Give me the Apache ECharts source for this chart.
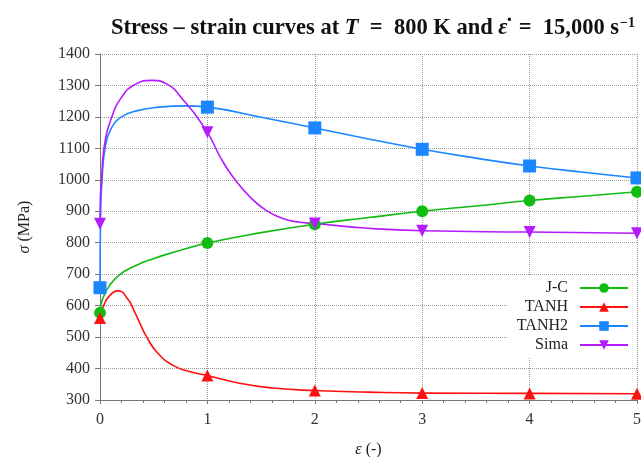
<!DOCTYPE html>
<html>
<head>
<meta charset="utf-8">
<script src="https://cdn.jsdelivr.net/npm/echarts@6/dist/echarts.min.js"></script>
<style>
  html, body { margin: 0; padding: 0; background: #fff; }
  #box { width: 641px; height: 457px; }
</style>
</head>
<body>
<div id="box"></div>
<script>
// values (strain, stress in MPa)
const jcStrain = [0, 0.01, 0.03, 0.078, 0.17, 0.33, 0.51, 0.7, 1, 1.5, 2, 2.5, 3, 3.5, 4, 4.5, 5];
const jcStress = [577, 605, 626, 658, 695, 727, 751, 771, 799, 832, 859, 880, 900, 917, 934, 948, 962];

const tanhStrain = [0, 0.01, 0.03, 0.08, 0.17, 0.26, 0.32, 0.37, 0.43, 0.53, 0.68, 0.84, 1, 1.3, 1.61, 2, 2.5, 3, 4, 5];
const tanhStress = [561, 578, 597, 628, 647, 620, 582, 545, 503, 452, 410, 390, 378, 353, 338, 330, 325, 322, 321, 320];

const tanh2Strain = [0, 0.006, 0.019, 0.047, 0.1, 0.2, 0.35, 0.55, 0.8, 1, 1.5, 2, 2.5, 3, 3.5, 4, 4.5, 5];
const tanh2Stress = [657, 900, 1000, 1100, 1160, 1200, 1220, 1231, 1235, 1231, 1199, 1165, 1130, 1097, 1069, 1044, 1024, 1006];

const simaStrain = [0, 0.004, 0.015, 0.037, 0.11, 0.2, 0.31, 0.48, 0.62, 0.775, 1, 1.12, 1.24, 1.4, 1.55, 1.71, 1.86, 2, 2.5, 3, 4, 5];
const simaStress = [860, 950, 1000, 1100, 1200, 1262, 1300, 1316, 1305, 1254, 1151, 1072, 1008, 944, 902, 876, 865, 861, 846, 838, 834, 830];

const yTicks = [300, 400, 500, 600, 700, 800, 900, 1000, 1100, 1200, 1300, 1400];

const font = 'Liberation Serif';

// markers only sit on whole strain values
function pts(xs, ys) {
  return xs.map((x, i) => Number.isInteger(x) ? [x, ys[i]] : { value: [x, ys[i]], symbol: 'none' });
}

function curve(name, xs, ys, color, symbol, size, rotate) {
  return {
    name: name,
    type: 'line',
    smooth: true,
    data: pts(xs, ys),
    symbol: symbol,
    symbolSize: size,
    symbolRotate: rotate || 0,
    lineStyle: { color: color, width: 1.6 },
    itemStyle: { color: color },
    emphasis: { disabled: true },
    z: 3
  };
}

const myChart = echarts.init(document.getElementById('box'));
const option = {
  animation: false,
  title: {
    text: '{b|Stress – strain curves at }{i|T}{b|  =  800 }{r|K}{b| and }{i|ε̇}{b|  =  15,000 }{r|s}{sup|−1}',
    left: 368,
    textAlign: 'center',
    top: 11,
    textStyle: {
      rich: {
        b: { fontFamily: font, fontWeight: 'bold', fontSize: 22.5, color: '#111' },
        i: { fontFamily: font, fontStyle: 'italic', fontSize: 22.5, color: '#111' },
        r: { fontFamily: font, fontSize: 22.5, color: '#111' },
        sup: { fontFamily: font, fontSize: 14, color: '#111', verticalAlign: 'top', padding: [0, 0, 10, 1] }
      }
    }
  },
  legend: {
    orient: 'vertical',
    right: 4,
    top: 276,
    align: 'right',
    itemWidth: 48,
    itemHeight: 12,
    itemGap: 3,
    padding: [4, 8, 4, 10],
    backgroundColor: '#fff',
    textStyle: { fontFamily: font, fontSize: 16, lineHeight: 16, color: '#222', padding: [0, 7, 0, 0] },
    data: ['J-C', 'TANH', 'TANH2', 'Sima']
  },
  grid: { left: 100, right: 4, top: 54, bottom: 57, outerBoundsMode: 'none' },
  xAxis: {
    type: 'value',
    min: 0,
    max: 5,
    interval: 1,
    name: '{i|ε} (-)',
    nameLocation: 'middle',
    nameGap: 42,
    nameTextStyle: {
      fontFamily: font, fontSize: 16, color: '#222',
      rich: { i: { fontFamily: font, fontStyle: 'italic', fontSize: 16, color: '#222' } }
    },
    axisLine: { onZero: false, lineStyle: { color: '#777', width: 1 } },
    axisTick: { length: 4, inside: false, lineStyle: { color: '#777' } },
    minorTick: { show: true, splitNumber: 5, length: 3, lineStyle: { color: '#777' } },
    axisLabel: { fontFamily: font, fontSize: 16, color: '#333', margin: 12 },
    splitLine: { lineStyle: { color: '#999', type: [1, 1], width: 1 } }
  },
  yAxis: {
    type: 'value',
    min: 300,
    max: 1400,
    interval: 100,
    name: '{i|σ} (MPa)',
    nameLocation: 'middle',
    nameGap: 67,
    nameTextStyle: {
      fontFamily: font, fontSize: 16, color: '#222',
      rich: { i: { fontFamily: font, fontStyle: 'italic', fontSize: 16, color: '#222' } }
    },
    axisLine: { show: true, lineStyle: { color: '#777', width: 1 } },
    axisTick: { show: true, length: 5, lineStyle: { color: '#777' } },
    axisLabel: {
      fontFamily: font, fontSize: 16, color: '#333', margin: 10,
      formatter: v => yTicks.includes(v) ? String(v) : ''
    },
    splitLine: { lineStyle: { color: '#999', type: [1, 1], width: 1 } }
  },
  series: [
    curve('J-C', jcStrain, jcStress, '#12bb12', 'circle', 12),
    curve('TANH', tanhStrain, tanhStress, '#ff1010', 'triangle', 12),
    curve('TANH2', tanh2Strain, tanh2Stress, '#1a86ff', 'rect', 13),
    curve('Sima', simaStrain, simaStress, '#b41cff', 'triangle', 12, 180)
  ]
};
myChart.setOption(option);
</script>
</body>
</html>
